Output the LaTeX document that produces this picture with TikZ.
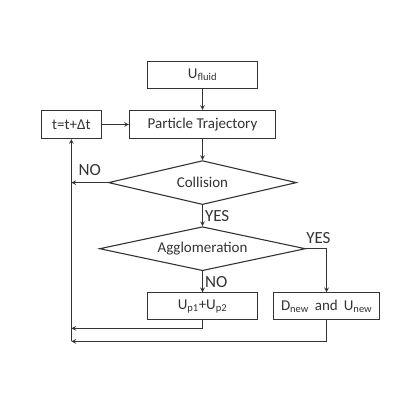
\documentclass[tikz,border=0pt]{standalone}
\usepackage{fontspec}
\setmainfont{Carlito}
\usepackage{tikz}
\usetikzlibrary{arrows,positioning,shapes.geometric}

\begin{document}
\begin{tikzpicture}[x=1pt,y=-1pt,->,>=stealth,line width=1.1pt,draw=black!80,
        node distance=21pt,font=\fontsize{15}{18}\selectfont,text=black!80,
        box/.style={draw=black!80,rectangle,fill=white,inner sep=2pt,minimum height=27pt},
        decision/.style={draw=black!80,diamond,aspect=4.5,inner sep=0pt},
        tag/.style={font=\fontsize{17}{20}\selectfont,inner sep=2pt}]
        \useasboundingbox (0,0) rectangle (400,400);
        % blocchi
        \node[box,minimum width=146pt,minimum height=28pt] (traj) at (202.5,124.5) {Particle Trajectory};
        \node[box,minimum width=110pt] (fluid) [above=of traj] {U\textsubscript{fluid}};
        \node[box,minimum width=60pt,minimum height=28pt] (tstep) [left=27pt of traj] {t=t+Δt};
        \node[decision,minimum width=188pt,minimum height=44pt] (coll) [below=of traj] {Collision};
        \node[decision,minimum width=206pt,minimum height=44pt] (aggl) [below=of coll] {Agglomeration};
        \node[box,minimum width=110pt] (sum) [below=of aggl] {U\textsubscript{p1}+U\textsubscript{p2}};
        \node[box,minimum width=106pt] (dnew) [right=15pt of sum] {D\textsubscript{new}\hspace{6pt}and\hspace{6pt}U\textsubscript{new}};
        \coordinate[below=8pt of sum] (back1);
        \coordinate[below=21pt of dnew] (back2);
        % archi
        \path
            (fluid) edge (traj)
            (tstep) edge (traj)
            (traj)  edge (coll)
            (coll)  edge node[tag,right]{YES} (aggl)
            (aggl)  edge node[tag,right]{NO} (sum);
        \draw (coll.west) -- node[tag,above=4pt]{NO} (coll.west -| tstep);
        \draw (aggl.east) -| node[tag,pos=0.3,above=3pt]{YES} (dnew.north);
        \draw (sum.south) |- (tstep |- back1);
        \draw (dnew.south) |- (tstep |- back2);
        \draw (tstep |- back2) -- (tstep.south);
\end{tikzpicture}
\end{document}
